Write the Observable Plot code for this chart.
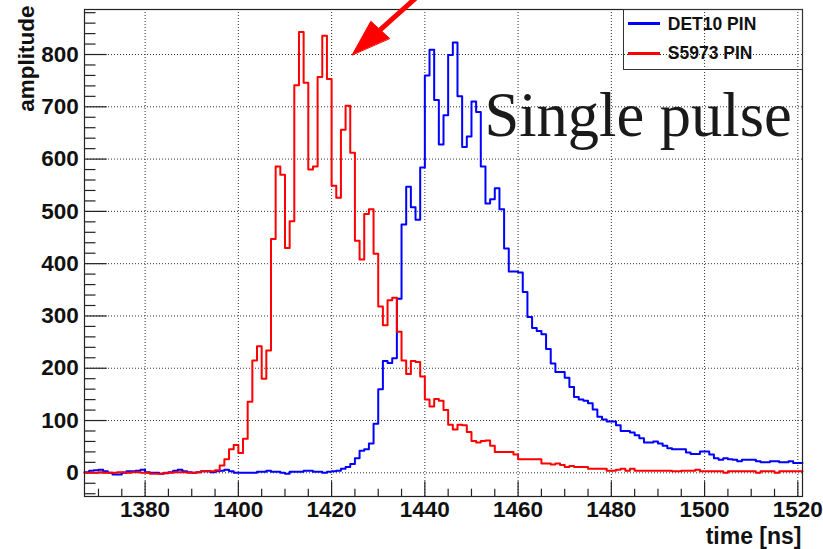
<!DOCTYPE html>
<html><head><meta charset="utf-8">
<script src="https://cdn.jsdelivr.net/npm/d3@7"></script>
<script src="https://cdn.jsdelivr.net/npm/@observablehq/plot@0.6"></script>
<style>
html,body{margin:0;padding:0;background:#fff;}
#wrap{position:relative;width:823px;height:549px;overflow:hidden;}
#legend{position:absolute;left:622.5px;top:9px;width:180px;height:60.5px;box-sizing:border-box;border:1.2px solid #333;}
.li{position:absolute;left:4.3px;width:32px;height:3px;}
.lt{position:absolute;left:44.3px;font:bold 17.5px "Liberation Sans",Arial,sans-serif;color:#111;line-height:1;white-space:nowrap;}
</style></head>
<body>
<div id="wrap"><div id="chart"></div>
<div id="legend">
  <div class="li" style="top:12.3px;background:#0000ff"></div><div class="lt" style="top:5.7px">DET10 PIN</div>
  <div class="li" style="top:41.6px;background:#ff0000"></div><div class="lt" style="top:35px">S5973 PIN</div>
</div></div>
<script>
// histogram bins: 1 ns wide, from binStart to binEnd
const binStart = 1367, binEnd = 1521;
// DET10 PIN (blue), bins 1367..1520
const det10 = [
  1,4,5,6,3,0,-3,-3,0,3,
  3,4,6,1,0,0,-2,-1,1,4,
  6,3,1,0,1,3,3,1,3,4,
  6,3,0,0,0,0,0,2,2,4,
  2,2,0,-2,2,2,2,4,4,2,
  2,0,2,3,4,8,11,17,28,42,
  45,56,94,160,214,210,219,333,475,547,
  508,484,584,760,809,713,628,684,799,823,
  720,623,643,710,690,586,515,523,544,504,
  429,385,385,383,346,298,277,271,265,237,
  209,193,193,182,164,145,140,138,133,121,
  107,102,98,98,91,80,80,77,72,66,
  58,58,60,56,52,47,45,45,45,39,
  36,36,41,41,35,28,25,28,26,25,
  22,25,25,25,22,20,20,22,22,20,
  20,22,19,19
];
// S5973 PIN (red), bins 1367..1520
const s5973 = [
  0,0,0,1,0,0,0,1,1,0,
  1,1,0,0,-2,-2,-2,0,0,1,
  1,1,0,0,1,3,3,3,5,14,
  26,45,53,38,65,136,215,242,180,234,
  447,586,570,430,481,741,843,746,580,586,
  757,836,753,549,526,656,702,612,444,408,
  495,504,419,318,282,330,335,270,215,189,
  214,212,184,140,127,141,138,120,92,83,
  92,91,78,61,58,61,62,52,40,40,
  40,40,35,26,26,26,26,26,18,18,
  16,18,15,11,13,11,11,11,8,8,
  8,8,4,4,6,8,4,8,4,4,
  4,4,4,4,4,4,3,3,4,4,
  4,6,3,3,3,3,3,0,3,3,
  3,3,3,3,0,3,3,3,0,3,
  3,3,3,3
];
const xMajor = [1380,1400,1420,1440,1460,1480,1500,1520];
const xMinor = [1370,1375,1385,1390,1395,1405,1410,1415,1425,1430,1435,1445,1450,1455,1465,1470,1475,1485,1490,1495,1505,1510,1515];
const yMajor = [0,100,200,300,400,500,600,700,800];
const yMinor = [-40,-20,20,40,60,80,120,140,160,180,220,240,260,280,320,340,360,380,420,440,460,480,520,540,560,580,620,640,660,680,720,740,760,780,820,840,860,880];
const yDomain = [-45.3, 886.1];
// annotation arrow (data coordinates)
const arrowShaft = [{t:1438.64,v:912.8},{t:1430.41,v:847.2}];
const arrowHead = [{t:1424.42,v:799.4},{t:1428.41,v:863.5},{t:1432.42,v:831.0}];

const times = d3.range(binStart, binEnd);
function steps(vals){
  const pts = vals.map((v,i)=>({t:times[i], v}));
  pts.push({t:binEnd, v:vals[vals.length-1]});
  return pts;
}
const W=823,H=549,mL=84,mR=21,mT=9,mB=53;
const fw=W-mL-mR, fh=H-mT-mB;
const chart = Plot.plot({
  width:W, height:H, marginLeft:mL, marginRight:mR, marginTop:mT, marginBottom:mB,
  style:{fontFamily:'"Liberation Sans", Arial, sans-serif', fontWeight:"bold", fontSize:"22.5px", color:"#111", background:"#fff"},
  x:{domain:[binStart,binEnd], ticks:xMajor, tickSize:0, tickPadding:4.7, tickFormat:"d", label:null},
  y:{domain:yDomain, ticks:yMajor, tickSize:0, tickPadding:5.7, tickFormat:"d", label:null},
  marks:[
    Plot.ruleX(xMajor, {stroke:"#333", strokeWidth:1, strokeDasharray:"1,2"}),
    Plot.ruleY(yMajor, {stroke:"#333", strokeWidth:1, strokeDasharray:"1,2"}),
    Plot.tickX(xMinor, {x:d=>d, insetTop:fh-7.3, stroke:"#222", strokeWidth:1.2}),
    Plot.tickX(xMajor, {x:d=>d, insetTop:fh-14.7, stroke:"#222", strokeWidth:1.2}),
    Plot.tickY(yMinor, {y:d=>d, insetRight:fw-11.5, stroke:"#222", strokeWidth:1.2}),
    Plot.tickY(yMajor, {y:d=>d, insetRight:fw-22.7, stroke:"#222", strokeWidth:1.2}),
    Plot.line(steps(det10), {x:"t", y:"v", curve:"step-after", stroke:"#0000ff", strokeWidth:2}),
    Plot.line(steps(s5973), {x:"t", y:"v", curve:"step-after", stroke:"#ff0000", strokeWidth:2}),
    Plot.frame({stroke:"#222", strokeWidth:1.2}),
    Plot.line(arrowShaft, {x:"t", y:"v", stroke:"#ff0000", strokeWidth:5, strokeLinecap:"butt"}),
    Plot.line(arrowHead, {x:"t", y:"v", curve:"linear-closed", fill:"#ff0000", stroke:"#ff0000", strokeWidth:1}),
    Plot.text(["Single pulse"], {text:d=>d, frameAnchor:"top-left", dx:400, dy:126, textAnchor:"start", lineAnchor:"bottom",
      fontFamily:'"Liberation Serif", "Times New Roman", serif', fontSize:62.5, fontWeight:"normal", fill:"#1a1a1a"}),
    Plot.text(["time [ns]"], {text:d=>d, frameAnchor:"bottom-right", dx:-1, dy:47.5, textAnchor:"end", lineAnchor:"bottom", fontSize:23, fill:"#111"}),
    Plot.text(["amplitude"], {text:d=>d, frameAnchor:"top-left", dx:-51, dy:-4, rotate:-90, textAnchor:"end", lineAnchor:"bottom", fontSize:22.5, fill:"#111"})
  ]
});
document.getElementById("chart").appendChild(chart);
</script>
</body></html>
